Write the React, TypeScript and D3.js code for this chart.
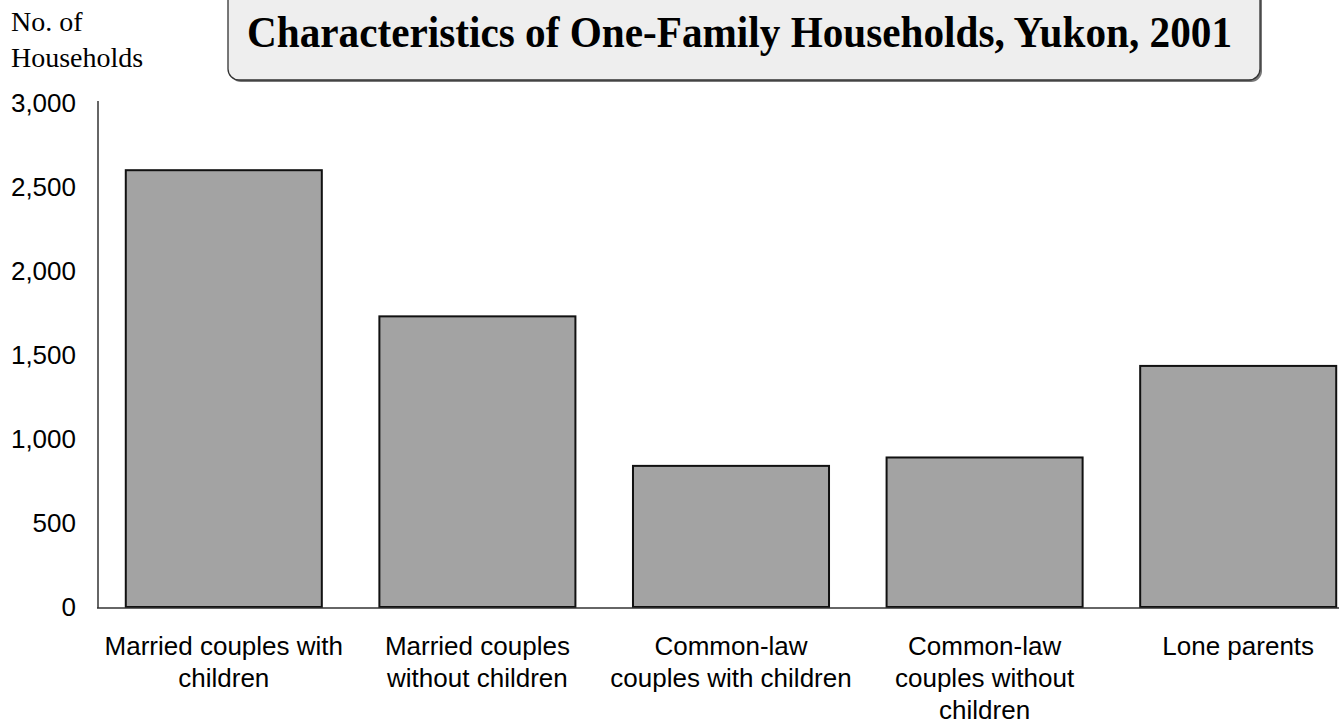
import React, { useRef, useEffect } from "react"
import * as d3 from "d3"

// chart data
const categories = [
  "Married couples with children",
  "Married couples without children",
  "Common-law couples with children",
  "Common-law couples without children",
  "Lone parents",
]
const labelLines = [
  ["Married couples with", "children"],
  ["Married couples", "without children"],
  ["Common-law", "couples with children"],
  ["Common-law", "couples without", "children"],
  ["Lone parents"],
]
const households = [2600, 1730, 840, 890, 1435]
const yTicks = [0, 500, 1000, 1500, 2000, 2500, 3000]
const titleText = "Characteristics of One-Family Households, Yukon, 2001"

export default function App() {
  const svgRef = useRef<SVGSVGElement>(null)

  useEffect(() => {
    const width = 1339
    const height = 724
    const svg = d3.select(svgRef.current)
    svg.selectAll("*").remove()
    svg.attr("width", width).attr("height", height)

    const sans = "'Liberation Sans', Arial, sans-serif"
    const serif = "'Liberation Serif', 'Times New Roman', serif"

    const x = d3.scaleBand<string>()
      .domain(categories)
      .range([97, 1365])
      .paddingInner(0.227)
      .paddingOuter(0.1135)

    const y = d3.scaleLinear().domain([0, 3000]).range([607, 103])

    // title box with a little shadow
    svg.append("rect")
      .attr("x", 230).attr("y", -12)
      .attr("width", 1032).attr("height", 94)
      .attr("rx", 11)
      .attr("fill", "#777")
    svg.append("rect")
      .attr("x", 228).attr("y", -12)
      .attr("width", 1032).attr("height", 92)
      .attr("rx", 11)
      .attr("fill", "#eeeeee")
      .attr("stroke", "#333")
      .attr("stroke-width", 1.3)
    svg.append("text")
      .attr("x", 247).attr("y", 47)
      .attr("font-family", serif)
      .attr("font-weight", "bold")
      .attr("font-size", 45)
      .attr("textLength", 985)
      .attr("lengthAdjust", "spacingAndGlyphs")
      .attr("fill", "#000")
      .text(titleText)

    // y axis title
    const yt = svg.append("text")
      .attr("font-family", serif)
      .attr("font-size", 28)
      .attr("fill", "#000")
    yt.append("tspan").attr("x", 11).attr("y", 31).text("No. of")
    yt.append("tspan").attr("x", 11).attr("y", 67).text("Households")

    // bars
    svg.append("g")
      .selectAll("rect")
      .data(households)
      .enter().append("rect")
      .attr("x", (d, i) => x(categories[i]) as number)
      .attr("y", d => y(d))
      .attr("width", x.bandwidth())
      .attr("height", d => y(0) - y(d))
      .attr("fill", "#a3a3a3")
      .attr("stroke", "#111")
      .attr("stroke-width", 2)

    // axes lines
    svg.append("line")
      .attr("x1", 98).attr("x2", 98)
      .attr("y1", 101).attr("y2", y(0) + 1)
      .attr("stroke", "#333").attr("stroke-width", 1.5)
    svg.append("line")
      .attr("x1", 97).attr("x2", width)
      .attr("y1", y(0) + 1).attr("y2", y(0) + 1)
      .attr("stroke", "#333").attr("stroke-width", 1.5)

    // tick labels
    svg.append("g")
      .selectAll("text")
      .data(yTicks)
      .enter().append("text")
      .attr("x", 76)
      .attr("y", d => y(d))
      .attr("dy", "0.35em")
      .attr("text-anchor", "end")
      .attr("font-family", sans)
      .attr("font-size", 26)
      .attr("fill", "#000")
      .text(d => d3.format(",")(d))

    // category labels
    const cl = svg.append("g")
      .selectAll("text")
      .data(categories)
      .enter().append("text")
      .attr("text-anchor", "middle")
      .attr("font-family", sans)
      .attr("font-size", 26)
      .attr("fill", "#000")
    cl.each(function (d, i) {
      const cx = (x(d) as number) + x.bandwidth() / 2
      labelLines[i].forEach((ln, j) => {
        d3.select(this).append("tspan")
          .attr("x", cx)
          .attr("y", 655 + j * 32)
          .text(ln)
      })
    })
  }, [])

  return (
    <svg ref={svgRef} style={{ position: "absolute", left: 0, top: 0, background: "#fff" }}></svg>
  )
}
